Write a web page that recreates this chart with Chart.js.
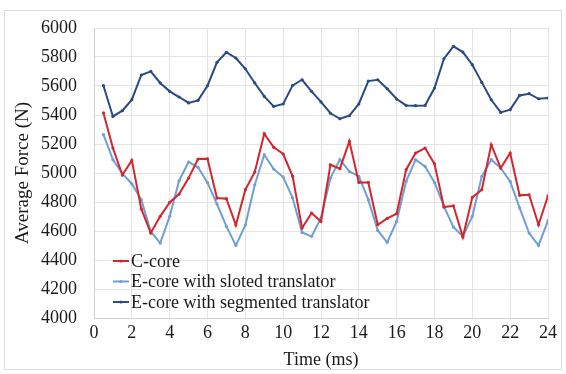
<!DOCTYPE html>
<html>
<head>
<meta charset="utf-8">
<script src="https://cdn.jsdelivr.net/npm/chart.js@4.4.1/dist/chart.umd.min.js"></script>
<style>
  html, body { margin: 0; padding: 0; background: #ffffff; }
  #wrap { width: 566px; height: 374px; position: relative; }
</style>
</head>
<body>
<div id="wrap"><canvas id="c" width="566" height="374"></canvas></div>
<script>
// Sample times (ms)
const timeMs = [0.5, 1, 1.5, 2, 2.5, 3, 3.5, 4, 4.5, 5, 5.5, 6,
                6.5, 7, 7.5, 8, 8.5, 9, 9.5, 10, 10.5, 11, 11.5, 12,
                12.5, 13, 13.5, 14, 14.5, 15, 15.5, 16, 16.5, 17, 17.5, 18,
                18.5, 19, 19.5, 20, 20.5, 21, 21.5, 22, 22.5, 23, 23.5, 24];

// Average force (N) per core type
const cCore = [5414, 5172, 4986, 5087, 4752, 4586, 4701, 4797, 4855, 4965, 5096, 5098,
               4827, 4823, 4641, 4885, 5007, 5271, 5177, 5131, 4977, 4621, 4724, 4666,
               5057, 5030, 5218, 4935, 4935, 4643, 4687, 4719, 5023, 5138, 5172, 5063,
               4765, 4774, 4558, 4832, 4885, 5195, 5034, 5138, 4846, 4850, 4643, 4843];

const eCoreSloted = [5264, 5092, 4995, 4926, 4816, 4597, 4517, 4701, 4947, 5076, 5039, 4933,
                     4786, 4632, 4501, 4641, 4919, 5126, 5027, 4972, 4828, 4590, 4563, 4690,
                     4965, 5092, 5011, 4977, 4816, 4604, 4521, 4666, 4942, 5092, 5046, 4935,
                     4770, 4627, 4563, 4701, 4977, 5092, 5034, 4942, 4759, 4586, 4501, 4671];

const eCoreSegmented = [5602, 5390, 5430, 5506, 5676, 5701, 5621, 5563, 5524, 5483, 5501, 5602,
                        5763, 5832, 5793, 5719, 5621, 5528, 5459, 5476, 5604, 5643, 5563, 5490,
                        5412, 5374, 5395, 5476, 5634, 5643, 5581, 5510, 5466, 5464, 5466, 5586,
                        5788, 5873, 5834, 5747, 5625, 5505, 5418, 5437, 5535, 5547, 5512, 5517];

const seriesNames = ['C-core', 'E-core with sloted translator', 'E-core with segmented translator'];
const xTicks = [0, 2, 4, 6, 8, 10, 12, 14, 16, 18, 20, 22, 24];
const yTicks = [4000, 4200, 4400, 4600, 4800, 5000, 5200, 5400, 5600, 5800, 6000];

const FONT = '"Liberation Serif", "Times New Roman", serif';
const colors = ['#d3262d', '#6f9fd6', '#2a4a86'];

const toPoints = vals => vals.map((v, i) => ({ x: timeMs[i], y: v }));

// Legend drawn inside the plot area, lower left
const innerLegend = {
  id: 'innerLegend',
  afterDatasetsDraw(chart) {
    const ctx = chart.ctx;
    const x0 = 113, x1 = 129, tx = 131;
    const rows = [261, 281.5, 302];
    ctx.save();
    ctx.font = '18px ' + FONT;
    ctx.textBaseline = 'middle';
    chart.data.datasets.forEach((ds, i) => {
      const y = rows[i];
      ctx.strokeStyle = ds.borderColor;
      ctx.lineWidth = 2;
      ctx.beginPath();
      ctx.moveTo(x0, y);
      ctx.lineTo(x1, y);
      ctx.stroke();
      ctx.fillStyle = ds.borderColor;
      ctx.beginPath();
      ctx.arc((x0 + x1) / 2, y, 1.6, 0, Math.PI * 2);
      ctx.fill();
      ctx.fillStyle = '#1a1a1a';
      ctx.fillText(ds.label, tx, y + 1);
    });
    ctx.restore();
  }
};

// Faint frame around the whole figure
const outerFrame = {
  id: 'outerFrame',
  afterDraw(chart) {
    const ctx = chart.ctx;
    ctx.save();
    ctx.strokeStyle = '#dcdcdc';
    ctx.lineWidth = 1;
    ctx.strokeRect(4.5, 10.5, 557, 359);
    ctx.restore();
  }
};

const mkDataset = (label, vals, color) => ({
  label,
  data: toPoints(vals),
  borderColor: color,
  backgroundColor: color,
  borderWidth: 2,
  pointRadius: 1.6,
  pointHoverRadius: 1.6,
  pointBorderWidth: 0,
  tension: 0
});

new Chart(document.getElementById('c'), {
  type: 'line',
  data: {
    datasets: [
      mkDataset(seriesNames[0], cCore, colors[0]),
      mkDataset(seriesNames[1], eCoreSloted, colors[1]),
      mkDataset(seriesNames[2], eCoreSegmented, colors[2])
    ]
  },
  options: {
    responsive: false,
    animation: false,
    devicePixelRatio: 1,
    layout: { padding: { top: 28, right: 18, bottom: 0, left: 0 } },
    plugins: {
      legend: { display: false },
      tooltip: { enabled: false }
    },
    scales: {
      x: {
        type: 'linear',
        min: 0,
        max: 24,
        afterBuildTicks: axis => { axis.ticks = xTicks.map(v => ({ value: v })); },
        afterFit: axis => { axis.height = 56; },
        grid: { color: '#e3e3e3', lineWidth: 1, drawTicks: false },
        border: { color: '#d0d0d0' },
        ticks: {
          color: '#1a1a1a',
          font: { family: FONT, size: 18 },
          padding: 4,
          maxRotation: 0,
          callback: v => String(v)
        },
        title: {
          display: true,
          text: 'Time (ms)',
          color: '#1a1a1a',
          font: { family: FONT, size: 18 },
          padding: { top: 0, bottom: 3 }
        }
      },
      y: {
        min: 4000,
        max: 6000,
        afterBuildTicks: axis => { axis.ticks = yTicks.map(v => ({ value: v })); },
        afterFit: axis => { axis.width = 94; },
        grid: { color: '#e3e3e3', lineWidth: 1, drawTicks: false },
        border: { color: '#d0d0d0' },
        ticks: {
          color: '#1a1a1a',
          font: { family: FONT, size: 18 },
          padding: 17,
          callback: v => String(v)
        },
        title: {
          display: true,
          text: 'Average Force (N)',
          color: '#1a1a1a',
          font: { family: FONT, size: 19 },
          padding: { top: 12, bottom: 0 }
        }
      }
    }
  },
  plugins: [innerLegend, outerFrame]
});
</script>
</body>
</html>
